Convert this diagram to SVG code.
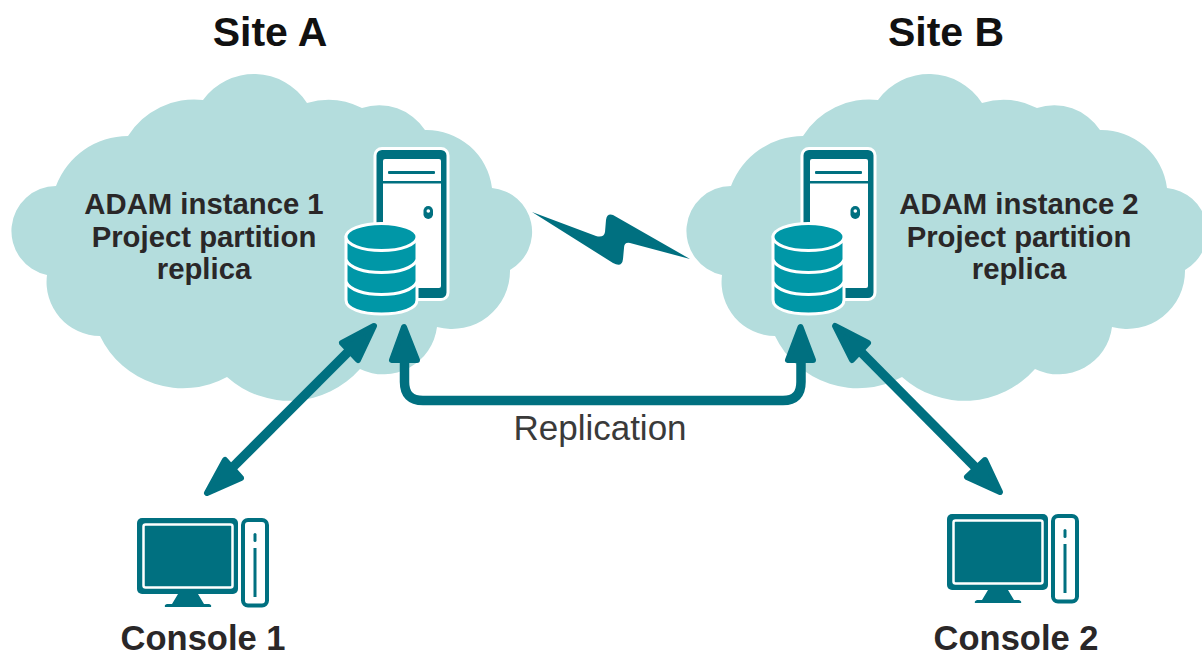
<svg xmlns="http://www.w3.org/2000/svg" xmlns:xlink="http://www.w3.org/1999/xlink" width="1202" height="655" viewBox="0 0 1202 655">
<style>
text{font-family:"Liberation Sans",Arial,sans-serif;fill:#2a2728;text-anchor:middle}
.h{font-size:41px;font-weight:700;fill:#111}
.b{font-size:29.300px;font-weight:700}
.c{font-size:34.500px;font-weight:700}
.r{font-size:35px;fill:#3a3a3a}
.cloud{fill:#b4dddd}
.ln{fill:none;stroke:#007080;stroke-width:9.500}
.head{fill:#007080;stroke:#007080;stroke-width:6;stroke-linejoin:round}
.db{fill:#0097a7;stroke:#fff;stroke-width:3}
</style>
<defs>
<path id="cloud" d="M56 186A77 77 0 0 1 128 136A78 78 0 0 1 203 100A63 63 0 0 1 307 103A75 75 0 0 1 362 108A55 55 0 0 1 425 130A66 66 0 0 1 492 188A44 44 0 0 1 510 270A58 58 0 0 1 437 327A54 54 0 0 1 360 369A94 94 0 0 1 227 377A92 92 0 0 1 100 336A54 54 0 0 1 47 275A45 45 0 0 1 56 186Z"/>
<g id="server">
<rect x="375" y="148.500" width="73" height="151" rx="7" fill="#007080" stroke="#fff" stroke-width="3"/>
<rect x="383" y="159" width="58" height="129" rx="2" fill="#fff"/>
<rect x="383" y="181" width="58" height="2.500" fill="#007080"/>
<rect x="388" y="171" width="47" height="3" rx="1" fill="#007080"/>
<rect x="423.500" y="206" width="9.500" height="13" rx="4.700" fill="#007080"/>
<circle cx="428.300" cy="211" r="1.800" fill="#fff"/>
</g>
<g id="db">
<path class="db" d="M346 237V300C346 309 362 314 381.500 314C401 314 417 309 417 300V237Z"/>
<ellipse class="db" cx="381.500" cy="237" rx="35.500" ry="13.500"/>
<path d="M346 260C350 268 364 272.500 381.500 272.500C399 272.500 413 268 417 260M346 282C350 290 364 294.500 381.500 294.500C399 294.500 413 290 417 282" fill="none" stroke="#fff" stroke-width="3"/>
</g>
<g id="pc">
<rect x="137" y="518" width="101" height="76" rx="5" fill="#007080"/>
<rect x="143.500" y="524.500" width="89" height="63" rx="2" fill="none" stroke="#fff" stroke-width="2.500"/>
<path d="M178 594H198L204 604H209Q212 605 211 607H165Q164 605 167 604H172Z" fill="#007080"/>
<rect x="243" y="520" width="24" height="85.500" rx="5" fill="#fff" stroke="#007080" stroke-width="4"/>
<rect x="253.500" y="533" width="3" height="9" rx="1.500" fill="#007080"/>
<rect x="253.500" y="548" width="3" height="49" fill="#007080"/>
</g>
</defs>
<g id="site-a-cloud"><use href="#cloud" class="cloud"/></g>
<g id="site-b-cloud"><use href="#cloud" class="cloud" x="675"/></g>
<text class="h" x="270" y="46">Site A</text>
<text class="h" x="946" y="46">Site B</text>
<g id="adam-1">
<use href="#server"/><use href="#db"/>
<text class="b" x="204" y="214">ADAM instance 1</text>
<text class="b" x="204" y="247">Project partition</text>
<text class="b" x="204" y="279">replica</text>
</g>
<g id="adam-2">
<use href="#server" x="427"/><use href="#db" x="427"/>
<text class="b" x="1019" y="214">ADAM instance 2</text>
<text class="b" x="1019" y="247">Project partition</text>
<text class="b" x="1019" y="279">replica</text>
</g>
<g id="console-1"><use href="#pc"/><text class="c" x="203" y="650">Console 1</text></g>
<g id="console-2"><use href="#pc" x="810" y="-4"/><text class="c" x="1016" y="650">Console 2</text></g>
<g id="connectors">
<path fill="#007080" d="M532 212L596 236Q604 238 605 232L606 220Q607 213 613 215L690 259L630 243Q624 242 624 248L623 259Q622 268 613 263Z"/>
<line class="ln" x1="355" y1="345" x2="226" y2="474"/>
<path class="head" d="M374 326L342 343L358 360Z"/>
<path class="head" d="M207 493L241 478L225 460Z"/>
<line class="ln" x1="854" y1="345" x2="980" y2="472"/>
<path class="head" d="M835 326L852 360L868 343Z"/>
<path class="head" d="M1000 492L985 460L967 477Z"/>
<path class="ln" d="M404.500 355V382Q404.500 400.500 423 400.500H783Q801 400.500 801 382V355"/>
<path class="head" d="M404 327L392 360H417Z"/>
<path class="head" d="M800.500 327L788 360H813Z"/>
<text class="r" x="600" y="440">Replication</text>
</g>
</svg>
